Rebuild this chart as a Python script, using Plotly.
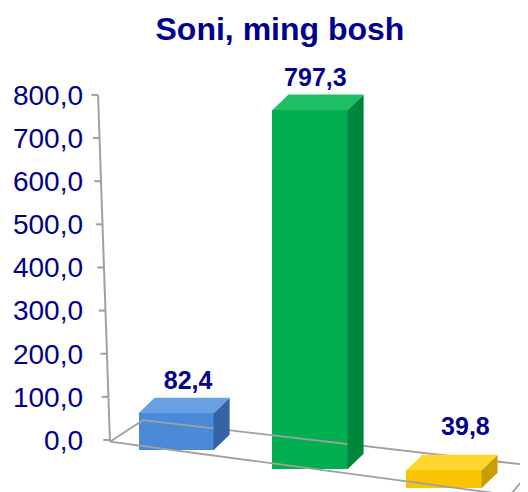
import plotly.graph_objects as go

values = [82.4, 797.3, 39.8]
labels = ["82,4", "797,3", "39,8"]
front_colors = ["#4A88D8", "#00B050", "#F7C600"]
side_colors = ["#3463A6", "#00853C", "#C99F00"]
top_colors = ["#6A9FE3", "#1EBE62", "#FFD52E"]
y_ticks = [0, 100, 200, 300, 400, 500, 600, 700, 800]

# figure is 520x484 because the page body adds an 8px margin
xs = [0, 1, 2]
w = 0.56       # front face width
dx = 0.12      # depth shift right
dz = 36        # depth shift up (data units)
base0, slope = -24, 44   # perspective drop of bar bottoms
persp = 1.045            # bars sit in front of the back wall, so they look a bit taller
x_left, x_right = -0.657, 2.627
FONT = "Liberation Sans, Arial, sans-serif"
NAVY = "#00008C"
GRAY = "#A0A0A0"

fig = go.Figure()

# floor (front-left, back-left, back-right, front-right)
fig.add_trace(go.Scatter(
    x=[x_left + 0.164, x_left + 0.41, x_right + 0.05, x_right - 0.134, x_left + 0.164],
    y=[-4, 46, -60, -128, -4],
    mode="lines", line=dict(color=GRAY, width=1.8),
    hoverinfo="skip", showlegend=False))

# y axis line and ticks (slightly slanted)
def ax_x(t):
    return x_left + 0.075 + 0.089 * (1 - t / 800)

tick_x, tick_y = [], []
for t in y_ticks:
    tick_x += [ax_x(t) - 0.05, ax_x(t), None]
    tick_y += [t, t, None]
fig.add_trace(go.Scatter(
    x=[ax_x(800), ax_x(0)] + [None] + tick_x, y=[800, -4] + [None] + tick_y,
    mode="lines", line=dict(color=GRAY, width=2),
    hoverinfo="skip", showlegend=False))

bases = [base0 - slope * x for x in xs]
heights = [v * persp for v in values]

# front faces
fig.add_trace(go.Bar(
    x=xs, y=heights, base=bases, width=w,
    marker=dict(color=front_colors, line=dict(width=0)),
    hoverinfo="skip", showlegend=False))

for x, h, b, sc, tc in zip(xs, heights, bases, side_colors, top_colors):
    x0, x1 = x - w / 2, x + w / 2
    top = b + h
    fig.add_trace(go.Scatter(
        x=[x1, x1 + dx, x1 + dx, x1, x1],
        y=[b, b + dz, top + dz, top, b],
        fill="toself", fillcolor=sc, mode="lines", line=dict(width=0, color=sc),
        hoverinfo="skip", showlegend=False))
    fig.add_trace(go.Scatter(
        x=[x0, x1, x1 + dx, x0 + dx, x0],
        y=[top, top, top + dz, top + dz, top],
        fill="toself", fillcolor=tc, mode="lines", line=dict(width=0, color=tc),
        hoverinfo="skip", showlegend=False))

# value labels
label_dx = [0.09, 0.04, 0.16]
label_dy = [6, 4, 32]
fig.add_trace(go.Scatter(
    x=[x + s for x, s in zip(xs, label_dx)],
    y=[b + h + dz + o for b, h, o in zip(bases, heights, label_dy)],
    mode="text", text=[f"<b>{t}</b>" for t in labels], textposition="top center",
    textfont=dict(family=FONT, size=25, color=NAVY),
    cliponaxis=False, hoverinfo="skip", showlegend=False))

fig.update_layout(
    width=520, height=484,
    separators=", ",
    paper_bgcolor="white", plot_bgcolor="white",
    margin=dict(l=80, r=0, t=74, b=0),
    title=dict(text="<b>Soni, ming bosh</b>", x=0.523, xanchor="center", y=0.981, yanchor="top",
               font=dict(family=FONT, size=32, color=NAVY)),
    font=dict(family=FONT, color=NAVY),
    bargap=0,
)
fig.update_xaxes(range=[x_left, x_right], visible=False)
fig.update_yaxes(range=[-120.6, 830], tickvals=y_ticks, tickformat=".1f",
                 ticks="", ticklabelstandoff=4,
                 showgrid=False, zeroline=False, showline=False,
                 tickfont=dict(family=FONT, size=28, color=NAVY))

fig.write_html("out.html")
